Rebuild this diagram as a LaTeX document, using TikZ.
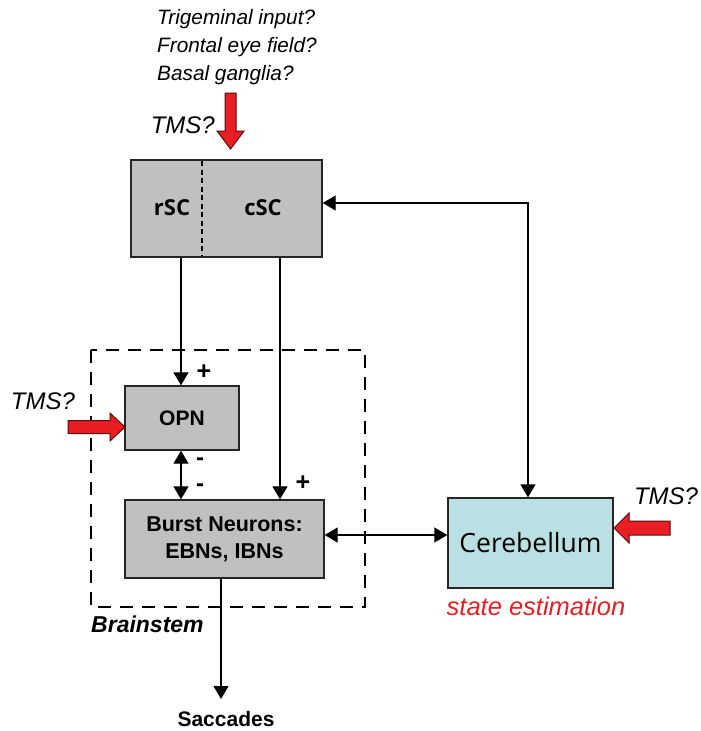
\documentclass[tikz,border=0pt]{standalone}
\usepackage{fontspec}
\setmainfont{Liberation Sans}
\newfontfamily\myr{Open Sans}
\usetikzlibrary{arrows.meta}
\definecolor{boxgray}{RGB}{192,192,192}
\definecolor{cerfill}{RGB}{186,224,228}
\definecolor{tmsred}{RGB}{232,30,36}
\definecolor{darkred}{RGB}{90,10,10}
\tikzset{
  blk/.style={draw=black!85, line width=1.4pt, fill=boxgray, inner sep=0pt},
  conn/.style={line width=1.3pt, -{Triangle[length=13pt,width=15pt]}},
  dconn/.style={line width=1.3pt, {Triangle[length=13pt,width=15pt]}-{Triangle[length=13pt,width=15pt]}},
  redarrow/.style={fill=tmsred, draw=darkred, line width=1pt, line join=miter},
  ital/.style={font=\fontsize{20.8}{28}\selectfont\itshape},
  tms/.style={font=\fontsize{24}{26}\selectfont\itshape},
  sign/.style={font=\fontsize{25}{26}\selectfont\bfseries, inner sep=0pt},
  msign/.style={font=\fontsize{24}{24}\selectfont\bfseries, inner sep=0pt},
}
\begin{document}
\begin{tikzpicture}[x=1pt,y=-1pt]
\useasboundingbox (0,0) rectangle (701,731);
% top texts
\node[ital, anchor=west, align=left, inner sep=0pt] (inputs) at (157,47) {Trigeminal input?\\Frontal eye field?\\Basal ganglia?};
\node[tms, anchor=east, inner sep=0pt] (tmstop) at (215,125) {TMS?};
\path[redarrow] (225,93) -- (236,93) -- (236,131) -- (244,131) -- (230.5,149) -- (217,131) -- (225,131) -- cycle;
% SC box
\node[blk, minimum width=191pt, minimum height=97pt] (sc) at (226.5,208.5) {};
\draw[line width=1.3pt, dash pattern=on 5pt off 3.5pt] (202,161) -- (202,256);
\node[font=\myr\fontsize{22}{24}\selectfont\bfseries] (rsc) at (172,208) {rSC};
\node[font=\myr\fontsize{22}{24}\selectfont\bfseries] (csc) at (263,208) {cSC};
% brainstem dashed box
\draw[line width=1.8pt, dash pattern=on 13pt off 9pt] (91,350) rectangle (365,607);
\node[font=\fontsize{23}{26}\selectfont\bfseries\itshape, anchor=west, inner sep=0pt] (bs) at (91,624) {Brainstem};
% OPN
\node[blk, minimum width=114pt, minimum height=64pt, font=\fontsize{21}{24}\selectfont\bfseries] (opn) at (182,418) {OPN};
% Burst
\node[blk, minimum width=199pt, minimum height=78pt, align=center, font=\fontsize{21.5}{27}\selectfont\bfseries] (burst) at (224.5,539) {Burst Neurons:\\EBNs, IBNs};
% Cerebellum
\node[draw=black!85, line width=1.4pt, fill=cerfill, minimum width=165pt, minimum height=90pt, inner sep=0pt, font=\myr\fontsize{26.5}{30}\selectfont] (cer) at (530.5,543) {Cerebellum};
\node[font=\fontsize{25.5}{28}\selectfont\itshape, text=tmsred, inner sep=0pt] (se) at (536,606) {state estimation};
% Saccades
\node[font=\fontsize{21}{24}\selectfont\bfseries, inner sep=0pt] (sac) at (226,719) {Saccades};
\coordinate (sacend) at (221,699);
% connectors
\draw[conn] (sc.south -| 181,0) -- (opn.north -| 181,0);
\draw[conn] (sc.south -| 280,0) -- (burst.north -| 280,0);
\draw[dconn] (opn.south -| 181,0) -- (burst.north -| 181,0);
\draw[dconn] (burst.east |- 0,535) -- (cer.west |- 0,535);
\draw[dconn] (sc.east |- 0,203) -| (cer.north -| 528,0);
\draw[conn] (burst.south -| 221,0) -- (sacend);
% signs
\node[sign] (p1) at (204,372) {+};
\node[sign] (p2) at (303,483) {+};
\node[msign] (m1) at (200,462) {-};
\node[msign] (m2) at (200,488) {-};
% TMS left
\node[tms, inner sep=0pt] (tmsl) at (43,401) {TMS?};
\path[redarrow] (68,420.5) -- (110,420.5) -- (110,413) -- (125,427) -- (110,441) -- (110,433.5) -- (68,433.5) -- cycle;
% TMS right
\node[tms, inner sep=0pt] (tmsr) at (666,496) {TMS?};
\path[redarrow] (670,521) -- (629,521) -- (629,513) -- (614,528) -- (629,543) -- (629,535) -- (670,535) -- cycle;
\end{tikzpicture}
\end{document}
